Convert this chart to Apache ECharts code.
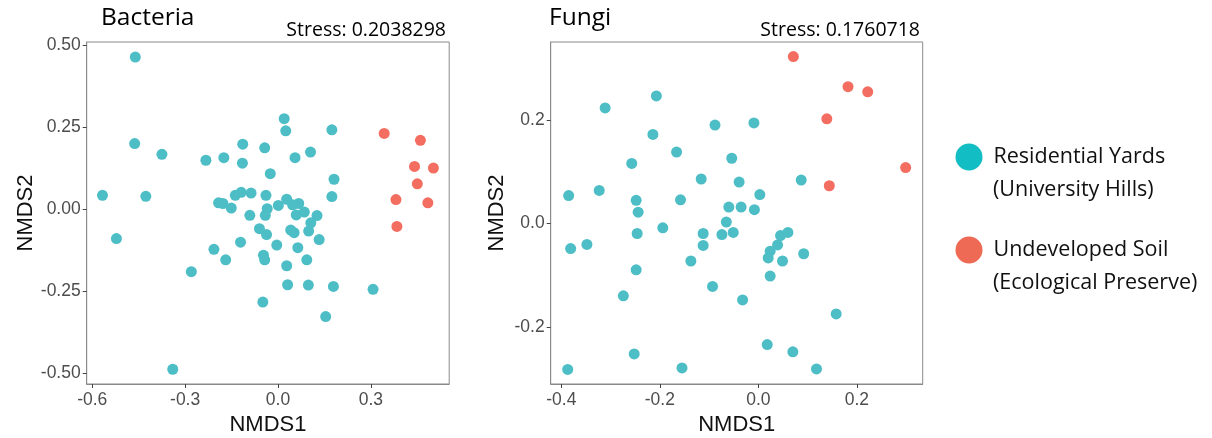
<!DOCTYPE html>
<html>
<head>
<meta charset="utf-8">
<script src="https://cdn.jsdelivr.net/npm/echarts@6/dist/echarts.min.js"></script>
<style>
html,body{margin:0;padding:0;background:#fff;}
#chart{width:1212px;height:438px;}
</style>
</head>
<body>
<div id="chart"></div>
<script>
// ---- Data ----
const groupNames = ['Residential Yards', 'Undeveloped Soil'];
const groupSubNames = ['(University Hills)', '(Ecological Preserve)'];
const panelTitles = ['Bacteria', 'Fungi'];
const stressLabels = ['Stress: 0.2038298', 'Stress: 0.1760718'];

const bacteriaResidential = [
  [-0.461, 0.464], [-0.463, 0.200], [-0.375, 0.167], [-0.567, 0.042], [-0.427, 0.039],
  [-0.522, -0.090], [-0.340, -0.489], [-0.280, -0.191], [-0.233, 0.149], [-0.175, 0.157],
  [-0.114, 0.198], [-0.115, 0.140], [-0.043, 0.187], [-0.025, 0.108], [0.020, 0.276],
  [0.025, 0.239], [0.055, 0.157], [0.105, 0.174], [0.174, 0.242], [0.181, 0.091],
  [0.174, 0.038], [-0.192, 0.019], [-0.178, 0.017], [-0.151, 0.003], [-0.138, 0.042],
  [-0.119, 0.051], [-0.087, 0.049], [-0.039, 0.042], [-0.035, 0.001], [-0.041, -0.019],
  [-0.091, -0.019], [0.001, 0.011], [0.028, 0.030], [0.047, 0.013], [0.067, 0.017],
  [0.059, -0.018], [0.085, -0.009], [0.126, -0.020], [0.106, -0.042], [0.099, -0.067],
  [0.133, -0.093], [0.041, -0.064], [0.052, -0.072], [-0.060, -0.060], [-0.037, -0.078],
  [-0.121, -0.101], [-0.004, -0.110], [0.064, -0.118], [-0.207, -0.123], [-0.169, -0.155],
  [-0.047, -0.141], [-0.043, -0.155], [0.028, -0.173], [0.093, -0.155], [0.031, -0.231],
  [0.098, -0.232], [0.179, -0.236], [0.307, -0.245], [-0.049, -0.284], [0.154, -0.328]
];
const bacteriaUndeveloped = [
  [0.343, 0.231], [0.460, 0.210], [0.441, 0.130], [0.502, 0.125],
  [0.450, 0.077], [0.381, 0.029], [0.484, 0.019], [0.384, -0.053]
];
const fungiResidential = [
  [-0.311, 0.223], [-0.207, 0.246], [-0.214, 0.172], [-0.385, 0.054], [-0.323, 0.064],
  [-0.381, -0.048], [-0.348, -0.040], [-0.257, 0.116], [-0.248, 0.045], [-0.244, 0.022],
  [-0.246, -0.019], [-0.194, -0.008], [-0.248, -0.089], [-0.274, -0.139], [-0.166, 0.138],
  [-0.158, 0.046], [-0.137, -0.072], [-0.116, 0.086], [-0.112, -0.019], [-0.112, -0.042],
  [-0.088, 0.190], [-0.054, 0.126], [-0.039, 0.080], [-0.060, 0.032], [-0.035, 0.032],
  [-0.065, 0.003], [-0.074, -0.021], [-0.051, -0.017], [-0.093, -0.121], [-0.032, -0.147],
  [-0.009, 0.194], [0.003, 0.056], [-0.008, 0.027], [0.087, 0.084], [0.060, -0.017],
  [0.045, -0.023], [0.039, -0.041], [0.024, -0.053], [0.020, -0.066], [0.049, -0.072],
  [0.024, -0.101], [0.092, -0.058], [0.158, -0.174], [0.018, -0.233], [0.070, -0.247],
  [0.118, -0.280], [-0.387, -0.281], [-0.252, -0.251], [-0.155, -0.278]
];
const fungiUndeveloped = [
  [0.071, 0.322], [0.182, 0.264], [0.222, 0.254], [0.139, 0.202], [0.299, 0.108], [0.144, 0.073]
];

const bacteriaXTicks = [-0.6, -0.3, 0.0, 0.3];
const bacteriaYTicks = [-0.50, -0.25, 0.00, 0.25, 0.50];
const fungiXTicks = [-0.4, -0.2, 0.0, 0.2];
const fungiYTicks = [-0.2, 0.0, 0.2];

// ---- Chart ----
const colors = ['#4DBEC6', '#F36D60'];
const legendColors = ['#13BDC4', '#EE6A55'];
const chart = echarts.init(document.getElementById('chart'), null, {renderer: 'canvas'});

function xAxisCfg(gridIndex, min, max, ticks, digits) {
  return {
    type: 'value', gridIndex, min, max,
    name: 'NMDS1', nameLocation: 'middle', nameGap: 21,
    nameTextStyle: {fontFamily: 'Liberation Sans', fontSize: 22, color: '#111'},
    splitLine: {show: false},
    axisLine: {show: true, onZero: false, lineStyle: {color: '#8a8a8a', width: 1}},
    axisTick: {show: true, length: 4, customValues: ticks, lineStyle: {color: '#444'}},
    axisLabel: {show: true, customValues: ticks, margin: 7, fontFamily: 'Liberation Sans', fontSize: 17.5, color: '#4d4d4d',
      formatter: v => Number(v).toFixed(digits)}
  };
}
function yAxisCfg(gridIndex, min, max, ticks, digits, gap) {
  return {
    type: 'value', gridIndex, min, max,
    name: 'NMDS2', nameLocation: 'middle', nameGap: gap,
    nameTextStyle: {fontFamily: 'Liberation Sans', fontSize: 22, color: '#111'},
    splitLine: {show: false},
    axisLine: {show: true, onZero: false, lineStyle: {color: '#8a8a8a', width: 1}},
    axisTick: {show: true, length: 4, customValues: ticks, lineStyle: {color: '#444'}},
    axisLabel: {show: true, customValues: ticks, margin: 6, fontFamily: 'Liberation Sans', fontSize: 17.5, color: '#4d4d4d',
      formatter: v => Number(v).toFixed(digits)}
  };
}
function scatter(name, xi, data, color) {
  return {
    type: 'scatter', name, xAxisIndex: xi, yAxisIndex: xi, data,
    symbol: 'circle', symbolSize: 11,
    itemStyle: {color, opacity: 1},
    emphasis: {disabled: true}
  };
}

const titleFont = '"Open Sans", "Liberation Sans", sans-serif';

chart.setOption({
  animation: false,
  backgroundColor: '#ffffff',
  grid: [
    {left: 86.7, top: 42, width: 362.5, height: 342, outerBoundsMode: 'none', containLabel: false,
      show: true, borderColor: '#8a8a8a', borderWidth: 1, backgroundColor: '#fff'},
    {left: 550.7, top: 42, width: 372, height: 342, outerBoundsMode: 'none', containLabel: false,
      show: true, borderColor: '#8a8a8a', borderWidth: 1, backgroundColor: '#fff'}
  ],
  xAxis: [
    xAxisCfg(0, -0.618, 0.553, bacteriaXTicks, 1),
    xAxisCfg(1, -0.4215, 0.3336, fungiXTicks, 1)
  ],
  yAxis: [
    yAxisCfg(0, -0.534, 0.51, bacteriaYTicks, 2, 50),
    yAxisCfg(1, -0.309, 0.350, fungiYTicks, 1, 43)
  ],
  legend: {
    orient: 'vertical', left: 950.5, top: 138.5,
    itemWidth: 27, itemHeight: 27, itemGap: 66, icon: 'circle',
    selectedMode: false,
    data: [
      {name: groupNames[0], itemStyle: {color: legendColors[0]}},
      {name: groupNames[1], itemStyle: {color: legendColors[1]}}
    ],
    textStyle: {fontFamily: titleFont, fontSize: 21.5, color: '#111', padding: [0, 0, 0, 6]}
  },
  series: [
    scatter(groupNames[0], 0, bacteriaResidential, colors[0]),
    scatter(groupNames[1], 0, bacteriaUndeveloped, colors[1]),
    scatter(groupNames[0], 1, fungiResidential, colors[0]),
    scatter(groupNames[1], 1, fungiUndeveloped, colors[1])
  ],
  graphic: [
    {type: 'text', x: 101, y: 18.5, style: {text: panelTitles[0], fontFamily: titleFont, fontSize: 24.5, fill: '#000', verticalAlign: 'middle', align: 'left'}},
    {type: 'text', x: 446, y: 30, style: {text: stressLabels[0], fontFamily: titleFont, fontSize: 19.5, fill: '#000', verticalAlign: 'middle', align: 'right'}},
    {type: 'text', x: 549, y: 18.5, style: {text: panelTitles[1], fontFamily: titleFont, fontSize: 24.5, fill: '#000', verticalAlign: 'middle', align: 'left'}},
    {type: 'text', x: 920, y: 30, style: {text: stressLabels[1], fontFamily: titleFont, fontSize: 19.5, fill: '#000', verticalAlign: 'middle', align: 'right'}},
    {type: 'text', x: 993, y: 190, style: {text: groupSubNames[0], fontFamily: titleFont, fontSize: 21.5, fill: '#111', verticalAlign: 'middle', align: 'left'}},
    {type: 'text', x: 993, y: 283, style: {text: groupSubNames[1], fontFamily: titleFont, fontSize: 21.5, fill: '#111', verticalAlign: 'middle', align: 'left'}}
  ]
});
</script>
</body>
</html>
